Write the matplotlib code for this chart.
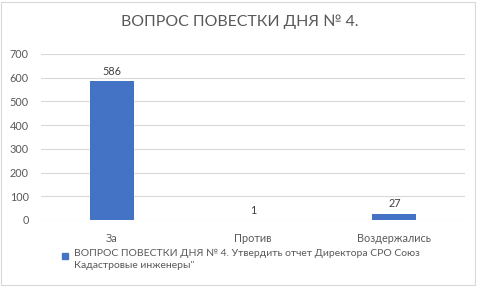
import matplotlib
matplotlib.use("Agg")
import matplotlib.pyplot as plt
from matplotlib.patches import Rectangle

categories = ["За", "Против", "Воздержались"]
values = [586, 1, 27]
yticks = [0, 100, 200, 300, 400, 500, 600, 700]
title = "ВОПРОС ПОВЕСТКИ ДНЯ № 4."
legend_text = "ВОПРОС ПОВЕСТКИ ДНЯ № 4. Утвердить отчет Директора СРО Союз\nКадастровые инженеры\""

plt.rcParams['font.family'] = ['Lato', 'DejaVu Sans']
W, H = 479, 287
fig = plt.figure(figsize=(W/100, H/100), dpi=100)
fig.patches.append(Rectangle((1/W, 2/H), 474/W, 283/H, transform=fig.transFigure,
                             fill=False, edgecolor='#d9d9d9', linewidth=0.8))

ax = fig.add_axes([41.3/W, 1-220/H, (465-41.3)/W, (220-54)/H])
x = list(range(len(categories)))
bars = ax.bar(x, values, width=0.31, color='#4472c4', zorder=3)
ax.set_xlim(-0.5, 2.5)
ax.set_ylim(0, 700)
ax.set_yticks(yticks)
ax.yaxis.grid(True, color='#d9d9d9', linewidth=0.8, zorder=0)
for s in ax.spines.values():
    s.set_visible(False)
ax.tick_params(axis='both', length=0, labelsize=7.8, labelcolor='#595959')
ax.tick_params(axis='y', pad=9)
ax.set_xticks(x)
ax.set_xticklabels(categories)
ax.tick_params(axis='x', pad=9)
for xi, v in zip(x, values):
    ax.annotate(str(v), (xi, v), xytext=(0, 3), textcoords='offset points',
                ha='center', va='bottom', fontsize=7.8, color='#404040')

fig.text(240/W, 1-22/H, title, ha='center', va='center', fontsize=11.4, color='#595959')
fig.patches.append(Rectangle((62/W, 1-259/H), 6/W, 6/H, transform=fig.transFigure,
                             color='#4472c4'))
fig.text(74/W, 1-249/H, legend_text, ha='left', va='top', fontsize=7.5,
         color='#595959', linespacing=1.4)

fig.savefig("out.png", dpi=100)
